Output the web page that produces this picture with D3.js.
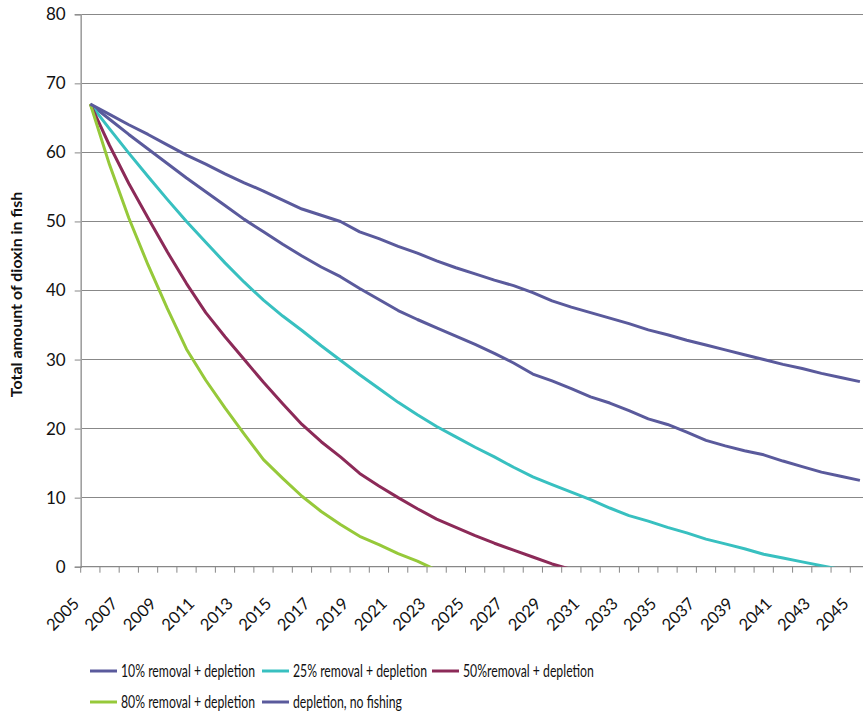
<!DOCTYPE html>
<html>
<head>
<meta charset="utf-8">
<script src="https://cdn.jsdelivr.net/npm/d3@7"></script>
<style>
  html, body { margin: 0; padding: 0; background: #fff; }
  svg { display: block; font-family: Lato, "Liberation Sans", sans-serif; }
</style>
</head>
<body>
<svg id="chart" width="863" height="713"></svg>
<script>
// Years on the category axis
const years = [2005, 2006, 2007, 2008, 2009, 2010, 2011, 2012, 2013, 2014,
  2015, 2016, 2017, 2018, 2019, 2020, 2021, 2022, 2023, 2024,
  2025, 2026, 2027, 2028, 2029, 2030, 2031, 2032, 2033, 2034,
  2035, 2036, 2037, 2038, 2039, 2040, 2041, 2042, 2043, 2044, 2045];

// Axis tick labels
const yTicks = [0, 10, 20, 30, 40, 50, 60, 70, 80];
const xTickLabels = ["2005", "2007", "2009", "2011", "2013", "2015", "2017", "2019",
  "2021", "2023", "2025", "2027", "2029", "2031", "2033", "2035", "2037", "2039",
  "2041", "2043", "2045"];

// Total dioxin in fish, one value per year from 2005
const removal10 = [67.0, 64.8, 62.6, 60.5, 58.4, 56.3, 54.3, 52.3, 50.3, 48.5,
  46.7, 45.0, 43.4, 42.0, 40.3, 38.7, 37.1, 35.8, 34.6, 33.4,
  32.2, 30.9, 29.5, 27.9, 26.9, 25.8, 24.6, 23.7, 22.6, 21.4,
  20.6, 19.5, 18.3, 17.5, 16.8, 16.2, 15.3, 14.5, 13.7, 13.1, 12.5];
const removal25 = [67.0, 63.4, 59.9, 56.5, 53.2, 50.0, 47.0, 44.0, 41.2, 38.6,
  36.3, 34.2, 32.0, 29.9, 27.8, 25.8, 23.8, 22.0, 20.3, 18.8,
  17.3, 15.9, 14.4, 13.0, 11.9, 10.8, 9.7, 8.5, 7.4, 6.6,
  5.7, 4.9, 4.0, 3.3, 2.6, 1.8, 1.25, 0.7, 0.15, -0.4];
const removal50 = [67.0, 61.0, 55.5, 50.5, 45.6, 41.0, 36.8, 33.3, 30.0, 26.7,
  23.6, 20.6, 18.1, 15.9, 13.5, 11.7, 10.0, 8.4, 6.9, 5.7,
  4.5, 3.4, 2.4, 1.4, 0.4, -0.4];
const removal80 = [67.0, 58.2, 50.5, 43.7, 37.4, 31.5, 27.0, 23.0, 19.2, 15.5,
  12.8, 10.2, 8.0, 6.1, 4.4, 3.2, 1.9, 0.8, -0.5];
const noFishing = [67.0, 65.5, 64.0, 62.6, 61.1, 59.6, 58.3, 56.9, 55.6, 54.4,
  53.1, 51.8, 50.9, 50.0, 48.5, 47.5, 46.4, 45.4, 44.3, 43.3,
  42.4, 41.5, 40.7, 39.7, 38.5, 37.6, 36.8, 36.0, 35.2, 34.3,
  33.6, 32.8, 32.1, 31.4, 30.7, 30.0, 29.3, 28.7, 28.0, 27.4, 26.8];

const seriesNames = ["10% removal + depletion", "25% removal + depletion",
  "50%removal + depletion", "80% removal + depletion", "depletion, no fishing"];
const seriesValues = [removal10, removal25, removal50, removal80, noFishing];
const seriesColors = ["#5a5a9c", "#38c0c0", "#8c2a58", "#96c93a", "#5a5a9c"];

const svg = d3.select("#chart");
const plot = { left: 80.7, top: 14.3, bottom: 566.7 };
plot.right = plot.left + 19.24 * years.length;

const x = d3.scaleBand().domain(years).range([plot.left, plot.right]).paddingInner(0).paddingOuter(0);
const y = d3.scaleLinear().domain([0, 80]).range([plot.bottom, plot.top]);
const cx = yr => x(yr) + x.bandwidth() / 2;

const gridColor = "#888888";
const textColor = "#111111";

// Horizontal gridlines
svg.append("g")
  .selectAll("line")
  .data(yTicks.filter(v => v > 0))
  .join("line")
  .attr("x1", plot.left).attr("x2", plot.right)
  .attr("y1", d => y(d)).attr("y2", d => y(d))
  .attr("stroke", gridColor).attr("stroke-width", 1).attr("shape-rendering", "crispEdges");

// Y axis
const yAxis = svg.append("g")
  .attr("transform", `translate(${plot.left},0)`)
  .call(d3.axisLeft(y).tickValues(yTicks).tickSize(6).tickPadding(9).tickFormat(d3.format("d")));
yAxis.select(".domain").attr("stroke", "#a0a0a0").attr("stroke-width", 1.6);
yAxis.selectAll(".tick line").attr("stroke", gridColor);
yAxis.selectAll(".tick text").attr("font-size", 17).attr("fill", textColor).attr("font-family", "Lato");

// X axis: tick marks on category boundaries
const boundaries = years.map(yr => x(yr)).concat([plot.right]);
svg.append("line")
  .attr("x1", plot.left).attr("x2", plot.right)
  .attr("y1", plot.bottom).attr("y2", plot.bottom)
  .attr("stroke", gridColor).attr("stroke-width", 1.2);
svg.append("g")
  .selectAll("line")
  .data(boundaries)
  .join("line")
  .attr("x1", d => d).attr("x2", d => d)
  .attr("y1", plot.bottom).attr("y2", plot.bottom + 6)
  .attr("stroke", gridColor).attr("stroke-width", 1);

// X labels, rotated
svg.append("g")
  .selectAll("text")
  .data(xTickLabels)
  .join("text")
  .attr("transform", d => `translate(${x(+d) - 0.5},${plot.bottom + 38}) rotate(-45)`)
  .attr("text-anchor", "end")
  .attr("font-size", 16.5)
  .attr("fill", textColor)
  .text(d => d);

// Y axis title
svg.append("text")
  .attr("transform", `translate(22,${(plot.top + plot.bottom) / 2 + 4}) rotate(-90)`)
  .attr("text-anchor", "middle")
  .attr("font-size", 16)
  .attr("font-weight", "bold")
  .attr("fill", textColor)
  .text("Total amount of dioxin in fish");

// Series lines, clipped to the plot area
svg.append("clipPath").attr("id", "plotClip")
  .append("rect")
  .attr("x", plot.left).attr("y", plot.top)
  .attr("width", plot.right - plot.left).attr("height", plot.bottom - plot.top);

const line = d3.line()
  .x((d, i) => cx(years[i]))
  .y(d => y(d));

svg.append("g")
  .attr("clip-path", "url(#plotClip)")
  .selectAll("path")
  .data(seriesValues)
  .join("path")
  .attr("d", d => line(d))
  .attr("fill", "none")
  .attr("stroke", (d, i) => seriesColors[i])
  .attr("stroke-width", 3)
  .attr("stroke-linejoin", "round");

// Legend
const legendPos = [
  { x: 90, y: 671 }, { x: 262, y: 671 }, { x: 432, y: 671 },
  { x: 90, y: 702 }, { x: 262, y: 702 }
];
const legend = svg.append("g")
  .selectAll("g")
  .data(seriesNames)
  .join("g")
  .attr("transform", (d, i) => `translate(${legendPos[i].x},${legendPos[i].y})`);
legend.append("line")
  .attr("x1", 0).attr("x2", 27).attr("y1", 0).attr("y2", 0)
  .attr("stroke", (d, i) => seriesColors[i]).attr("stroke-width", 3);
const legendText = legend.append("text")
  .attr("x", 31).attr("y", 6)
  .attr("font-size", 17)
  .attr("fill", textColor)
  .text(d => d);

// Condense legend labels uniformly so the first one spans 134px
const firstWidth = legendText.node().getComputedTextLength();
const squeeze = 134 / firstWidth;
legendText.each(function () {
  const w = this.getComputedTextLength();
  d3.select(this)
    .attr("textLength", w * squeeze)
    .attr("lengthAdjust", "spacingAndGlyphs");
});
</script>
</body>
</html>
